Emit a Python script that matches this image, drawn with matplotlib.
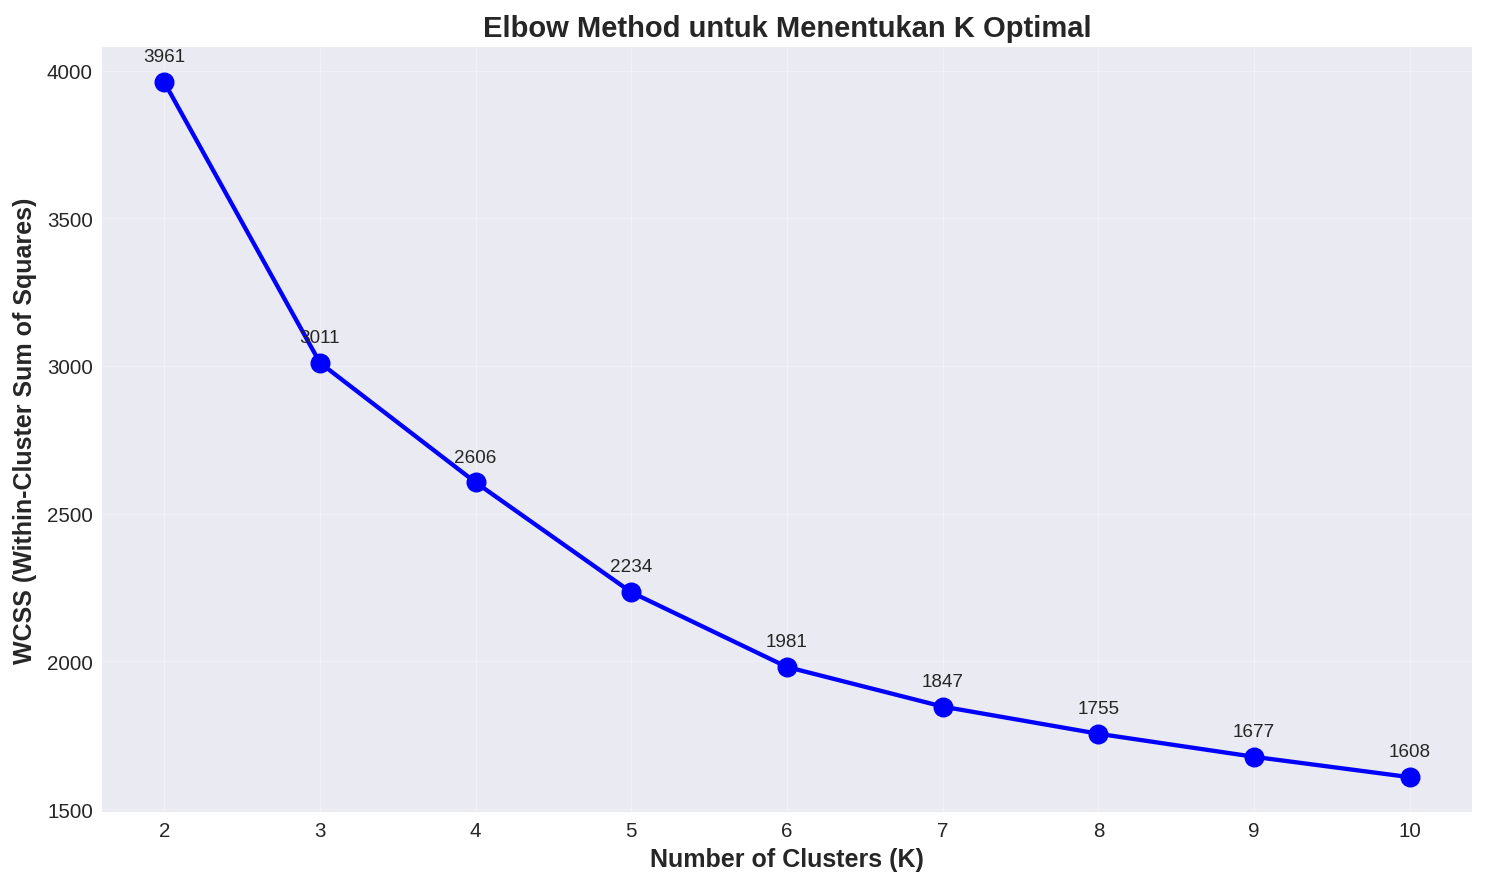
import matplotlib
matplotlib.use("Agg")
import matplotlib.pyplot as plt

# Data
k_values = [2, 3, 4, 5, 6, 7, 8, 9, 10]
wcss = [3961, 3011, 2606, 2234, 1981, 1847, 1755, 1677, 1608]

plt.style.use('seaborn-v0_8-darkgrid')
plt.rcParams['font.family'] = ['Liberation Sans', 'DejaVu Sans']

fig = plt.figure(figsize=(14.86, 8.87), dpi=100)
ax = fig.add_subplot(111)

ax.plot(k_values, wcss, marker='o', color='blue', linewidth=3.1, markersize=13.4)

# Value labels above each point
for k, w in zip(k_values, wcss):
    ax.annotate(f'{w}', (k, w), textcoords='offset points', xytext=(0, 15),
                ha='center', fontsize=13.6, color='#262626')

ax.set_title('Elbow Method untuk Menentukan K Optimal', fontsize=21, fontweight='bold', pad=8)
ax.set_xlabel('Number of Clusters (K)', fontsize=18, fontweight='bold', labelpad=5)
ax.set_ylabel('WCSS (Within-Cluster Sum of Squares)', fontsize=18, fontweight='bold', labelpad=7)
ax.set_xticks(k_values)
ax.tick_params(labelsize=14.8, pad=6.5)
ax.grid(True, alpha=0.3)

fig.subplots_adjust(left=0.0686, right=0.9906, top=0.9455, bottom=0.0835)
fig.savefig('out.png', dpi=100)
